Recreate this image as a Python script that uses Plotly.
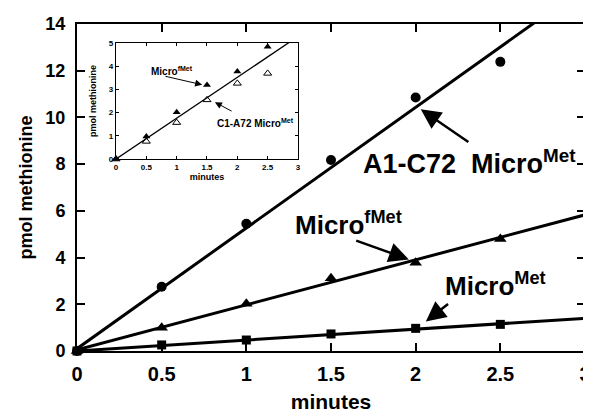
import plotly.graph_objects as go

# ---- data ----
minutes = [0, 0.5, 1.0, 1.5, 2.0, 2.5]
a1c72_micromet = [0, 2.75, 5.45, 8.18, 10.85, 12.38]
micro_fmet = [0, 1.0, 2.02, 3.12, 3.78, 4.79]
micro_met = [0, 0.26, 0.47, 0.73, 0.97, 1.14]

fit_x = [0, 3]
fit_a1c72 = [0.1, 15.6]
fit_fmet = [0.05, 5.83]
fit_met = [0.0, 1.40]

inset_fmet = [0, 0.97, 2.02, 3.19, 3.77, 4.84]
inset_c1a72 = [0, 0.76, 1.57, 2.55, 3.26, 3.69]
fit_inset = [0, 5.28]

x_ticks = [0, 0.5, 1, 1.5, 2, 2.5, 3]
x_ticklabels = ["0", "0.5", "1", "1.5", "2", "2.5", "3"]
y_ticks = [0, 2, 4, 6, 8, 10, 12, 14]
inset_y_ticks = [0, 1, 2, 3, 4, 5]

FONT = "Liberation Sans, Arial, Helvetica, sans-serif"
BLACK = "black"

fig = go.Figure()

# main fit lines
for fy in (fit_a1c72, fit_fmet, fit_met):
    fig.add_trace(go.Scatter(x=fit_x, y=fy, mode="lines",
                             line=dict(color=BLACK, width=3),
                             showlegend=False, hoverinfo="skip"))
# main markers
fig.add_trace(go.Scatter(x=minutes, y=a1c72_micromet, mode="markers",
                         marker=dict(symbol="circle", size=10, color=BLACK),
                         cliponaxis=False, showlegend=False))
fig.add_trace(go.Scatter(x=minutes, y=micro_fmet, mode="markers",
                         marker=dict(symbol="triangle-up", size=11, color=BLACK),
                         cliponaxis=False, showlegend=False))
fig.add_trace(go.Scatter(x=minutes, y=micro_met, mode="markers",
                         marker=dict(symbol="square", size=9, color=BLACK),
                         cliponaxis=False, showlegend=False))

# inset
fig.add_trace(go.Scatter(x=fit_x, y=fit_inset, mode="lines", xaxis="x2", yaxis="y2",
                         line=dict(color=BLACK, width=1.3),
                         showlegend=False, hoverinfo="skip"))
fig.add_trace(go.Scatter(x=minutes, y=inset_fmet, mode="markers", xaxis="x2", yaxis="y2",
                         marker=dict(symbol="triangle-up", size=7, color=BLACK),
                         cliponaxis=False, showlegend=False))
fig.add_trace(go.Scatter(x=minutes, y=inset_c1a72, mode="markers", xaxis="x2", yaxis="y2",
                         marker=dict(symbol="triangle-up-open", size=7, color=BLACK,
                                     line=dict(width=1)),
                         cliponaxis=False, showlegend=False))

axis_common = dict(showline=True, linecolor=BLACK, linewidth=2, mirror="ticks",
                   ticks="inside", tickcolor=BLACK, tickwidth=2, ticklen=8,
                   showgrid=False, zeroline=False, automargin=False)

inset_common = dict(showline=True, linecolor=BLACK, linewidth=1.2, mirror="ticks",
                    ticks="inside", tickcolor=BLACK, tickwidth=1, ticklen=3,
                    showgrid=False, zeroline=False, automargin=False)

# inset domain (paper coords)
ix0, ix1 = 0.0768, 0.435
iy0, iy1 = 0.587, 0.942

# the page body has an 8px margin, so the figure is 8px smaller than the window
fig.update_layout(
    width=583, height=405,
    margin=dict(l=69, r=6, t=16, b=62),
    paper_bgcolor="white", plot_bgcolor="white",
    font=dict(family=FONT, color=BLACK),
    xaxis=dict(range=[0, 3], tickvals=x_ticks, ticktext=x_ticklabels,
               tickfont=dict(size=20, family=FONT, weight="bold"),
               ticklabelstandoff=4,
               title=dict(text="<b>minutes</b>", font=dict(size=21), standoff=12),
               **axis_common),
    yaxis=dict(range=[0, 14], tickvals=y_ticks,
               tickfont=dict(size=18, family=FONT, weight="bold"),
               ticklabelstandoff=6,
               title=dict(text="<b>pmol methionine</b>", font=dict(size=18), standoff=8),
               **axis_common),
    xaxis2=dict(domain=[ix0, ix1], anchor="y2", range=[0, 3], tickvals=x_ticks,
                ticktext=x_ticklabels,
                tickfont=dict(size=8, family=FONT, weight="bold"),
                title=dict(text="<b>minutes</b>", font=dict(size=9), standoff=0),
                **inset_common),
    yaxis2=dict(domain=[iy0, iy1], anchor="x2", range=[0, 5], tickvals=inset_y_ticks,
                tickfont=dict(size=8, family=FONT, weight="bold"),
                title=dict(text="<b>pmol methionine</b>", font=dict(size=9), standoff=10),
                **inset_common),
)

# white background for inset
fig.add_shape(type="rect", xref="paper", yref="paper", x0=ix0, x1=ix1, y0=iy0, y1=iy1,
              fillcolor="white", line=dict(width=0), layer="below")

def label(text, x, y, size, xref="x", yref="y"):
    fig.add_annotation(text="<b>" + text + "</b>", x=x, y=y, xref=xref, yref=yref,
                       xanchor="left", yanchor="middle", showarrow=False,
                       font=dict(size=size, family=FONT, color=BLACK))

def arrow(tail, tip, width, size, xref="x", yref="y"):
    fig.add_annotation(text="", x=tip[0], y=tip[1], ax=tail[0], ay=tail[1],
                       xref=xref, yref=yref, axref=xref, ayref=yref,
                       showarrow=True, arrowhead=2, arrowsize=size, arrowwidth=width,
                       arrowcolor=BLACK)

# main labels
label("A1-C72  Micro<sup>Met</sup>", 1.68, 8.09, 27)
arrow((2.32, 8.9), (2.03, 10.35), 2.5, 1.6)
label("Micro<sup>fMet</sup>", 1.276, 5.44, 26)
arrow((1.64, 4.75), (1.96, 3.92), 2.5, 1.6)
label("Micro<sup>Met</sup>", 2.16, 2.83, 26)
arrow((2.20, 2.06), (2.06, 1.26), 2.5, 1.6)

# inset labels
label("Micro<sup>fMet</sup>", 0.544, 3.79, 10, "x2", "y2")
arrow((0.79, 3.58), (1.42, 3.2), 1, 1.4, "x2", "y2")
label("C1-A72 Micro<sup>Met</sup>", 1.63, 1.55, 10, "x2", "y2")
arrow((1.93, 2.03), (1.63, 2.45), 1, 1.4, "x2", "y2")

fig.write_html("out.html")
